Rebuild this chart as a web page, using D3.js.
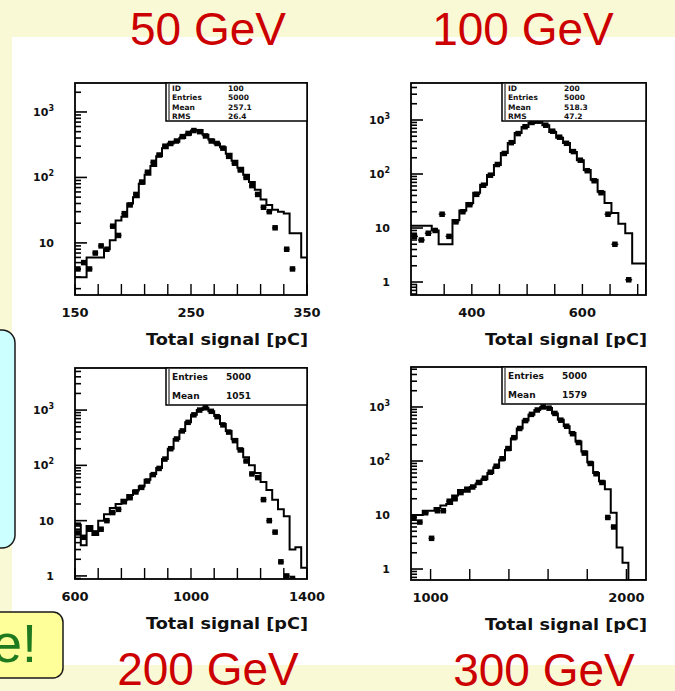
<!DOCTYPE html>
<html>
<head>
<meta charset="utf-8">
<script src="https://cdnjs.cloudflare.com/ajax/libs/d3/7.8.5/d3.min.js"></script>
<style>
  body { margin: 0; background: #f9f9d6; }
  svg { display: block; }
</style>
</head>
<body>
<svg id="chart" width="675" height="691"></svg>
<script>
// values (total signal, log scale)
const titles = ["50 GeV", "100 GeV", "200 GeV", "300 GeV"];
const xDomains = [[150, 350], [290, 715], [600, 1400], [900, 2100]];
const yDomains = [[1.6, 2770], [0.575, 4840], [0.88, 5770], [0.626, 5500]];
const binStarts = [150, 290, 600, 900];
const binWidths = [5, 12.5, 20, 30];
const xTickSteps = [20, 50, 80, 200];
const xTickLabels = [[150, 250, 350], [400, 600], [600, 1000, 1400], [1000, 2000]];
const yTickLabels = [1, 10, 100, 1000];
const xTitle = "Total signal [pC]";

const hist50 = [3, 3, 6, 6, 6, 8, 11, 22, 25, 40, 50, 80, 110, 150, 210, 280, 330, 350, 400, 450,
                520, 530, 450, 380, 330, 290, 230, 180, 140, 110, 85, 65, 46, 38, 32, 30, 28, 14, 14, 6];
const data50 = [4, 5, 4, 7, 9, 8, 18, 13, 28, 38, 55, 85, 120, 170, 220, 300, 330, 360, 420, 470,
                520, 500, 430, 360, 330, 280, 210, 165, 130, 100, 75, 55, 35, 30, 17, null, 8, 4, null, null];

const hist100 = [11, 11, 11, 9, 5, 5, 14, 21, 29, 45, 63, 96, 147, 245, 375, 575, 740, 880, 930, 800,
                 600, 470, 375, 255, 180, 118, 78, 47, 29, 19, 12, 8, 2.2, 2.2];
const data100 = [7, 6, 8, 9, 18, 7, 13, 20, 27, 42, 62, 95, 150, 240, 380, 560, 750, 900, 950, 800,
                 620, 480, 370, 260, 180, 115, 75, 45, 18, 5, null, 1.1, null, null];

const hist200 = [8.4, 3.6, 8, 5.5, 10, 13, 17, 20, 24, 29, 35, 42, 55, 70, 90, 130, 200, 300, 420, 600,
                 820, 1000, 1100, 950, 780, 560, 420, 300, 200, 140, 100, 73, 50, 36, 24, 16, 12, 3, 3.3, 1.4];
const data200 = [6, 5, 7, 6, 7, 10, 14, 16, 22, 26, 33, 40, 52, 68, 88, 130, 200, 300, 420, 600,
                 820, 1000, 1100, 950, 760, 540, 400, 280, 190, 120, 70, 60, 24, 10, 6.2, 1.8, 1, 0.9, null, null];

const hist300 = [10, 10, 12, 12, 13.5, 15, 16, 23, 29, 27, 33, 38, 46, 60, 76, 105, 160, 260, 400, 560,
                 720, 880, 1000, 960, 760, 580, 440, 330, 230, 150, 95, 60, 42, 30, 11, 2.5, 1.3, 0, 0, 0];
const data300 = [9, 7.4, 11, 3.7, 12, 12, 18, 20, 26, 30, 33, 40, 48, 62, 80, 110, 170, 270, 400, 560,
                 730, 880, 1000, 950, 760, 570, 440, 320, 220, 140, 90, 58, 40, 9, 6, null, null, null, null, null];

const histograms = [hist50, hist100, hist200, hist300];
const dataPoints = [data50, data100, data200, data300];

// stats boxes (barely legible in the scan)
const statNamesTop = ["ID", "Entries", "Mean", "RMS"];
const statNamesBottom = ["Entries", "Mean"];
const statValues = [["100", "5000", "257.1", "26.4"], ["200", "5000", "518.3", "47.2"],
                    ["5000", "1051"], ["5000", "1579"]];

// ---- layout ----
const frames = [
  { left: 75, right: 307, top: 83, bottom: 295 },
  { left: 411, right: 646, top: 83, bottom: 295 },
  { left: 75, right: 307, top: 368, bottom: 579 },
  { left: 411, right: 646, top: 367, bottom: 580 }
];
const titlePos = [[208, 45], [523, 45], [208, 685], [544, 686]];

const svg = d3.select("#chart");

// slide background + pasted white picture
svg.append("rect").attr("width", 675).attr("height", 691).attr("fill", "#f9f9d6");
svg.append("rect").attr("x", 12).attr("y", 37).attr("width", 663).attr("height", 628).attr("fill", "#ffffff");

const axisFont = "'DejaVu Sans', sans-serif";

frames.forEach((f, p) => {
  const x = d3.scaleLinear().domain(xDomains[p]).range([f.left, f.right]);
  const y = d3.scaleLog().domain(yDomains[p]).range([f.bottom, f.top]).clamp(true);
  const yv = v => (v > 0 ? y(v) : f.bottom);

  const g = svg.append("g");
  const clipId = "clip" + p;
  svg.append("clipPath").attr("id", clipId)
    .append("rect").attr("x", f.left).attr("y", f.top)
    .attr("width", f.right - f.left).attr("height", f.bottom - f.top);

  const plot = g.append("g").attr("clip-path", `url(#${clipId})`);

  // histogram as a step line
  const h = histograms[p];
  const w = binWidths[p];
  const pts = h.map((v, i) => [binStarts[p] + i * w, v]);
  pts.push([binStarts[p] + h.length * w, h[h.length - 1]]);
  const step = d3.line().x(d => x(d[0])).y(d => yv(d[1])).curve(d3.curveStepAfter);
  plot.append("path")
    .attr("d", step(pts) + `L${x(binStarts[p] + h.length * w)},${f.bottom}`)
    .attr("fill", "none").attr("stroke", "#000").attr("stroke-width", 2);

  // data points with horizontal bin bars
  const pd = dataPoints[p].map((v, i) => ({ v, i })).filter(d => d.v != null);
  plot.selectAll("line.err").data(pd).join("line")
    .attr("x1", d => x(binStarts[p] + d.i * w))
    .attr("x2", d => x(binStarts[p] + (d.i + 1) * w))
    .attr("y1", d => yv(d.v)).attr("y2", d => yv(d.v))
    .attr("stroke", "#000").attr("stroke-width", 1.3);
  plot.selectAll("rect.pt").data(pd).join("rect")
    .attr("x", d => x(binStarts[p] + (d.i + 0.5) * w) - 2.75)
    .attr("y", d => yv(d.v) - 2.75)
    .attr("width", 5.5).attr("height", 5.5).attr("fill", "#000");

  // x ticks (inside, pointing up)
  const origin = xTickLabels[p][0];
  const sx = xTickSteps[p];
  const kMin = Math.ceil((xDomains[p][0] - origin) / sx);
  const kMax = Math.floor((xDomains[p][1] - origin) / sx);
  const xt = d3.range(kMin, kMax + 1).map(k => origin + k * sx);
  g.selectAll("line.xt").data(xt).join("line")
    .attr("x1", d => x(d)).attr("x2", d => x(d))
    .attr("y1", f.bottom).attr("y2", f.bottom - 11)
    .attr("stroke", "#000").attr("stroke-width", 1.4);

  // y ticks (log, inside)
  const yt = y.ticks().filter(t => t >= yDomains[p][0] && t <= yDomains[p][1]);
  g.selectAll("line.yt").data(yt).join("line")
    .attr("x1", f.left)
    .attr("x2", d => f.left + (Math.abs(Math.log10(d) - Math.round(Math.log10(d))) < 1e-9 ? 12 : 6))
    .attr("y1", d => y(d)).attr("y2", d => y(d))
    .attr("stroke", "#000").attr("stroke-width", 1.6);

  // frame
  g.append("rect")
    .attr("x", f.left).attr("y", f.top)
    .attr("width", f.right - f.left).attr("height", f.bottom - f.top)
    .attr("fill", "none").attr("stroke", "#000").attr("stroke-width", 1.8);

  // stats box
  const top = p < 2;
  const boxL = f.left + 91;
  const boxH = top ? 38 : 37;
  g.append("rect")
    .attr("x", boxL).attr("y", f.top)
    .attr("width", f.right - boxL).attr("height", boxH)
    .attr("fill", "#fff").attr("stroke", "#000").attr("stroke-width", 1.5);
  g.append("line")
    .attr("x1", boxL + 3).attr("x2", boxL + 3)
    .attr("y1", f.top + 1).attr("y2", f.top + boxH - 1)
    .attr("stroke", "#000").attr("stroke-width", 1);
  const names = top ? statNamesTop : statNamesBottom;
  const rowH = boxH / names.length;
  names.forEach((n, r) => {
    const by = f.top + rowH * (r + 0.5) + 3;
    g.append("text").attr("x", boxL + 6).attr("y", by)
      .attr("font-family", axisFont).attr("font-weight", "bold")
      .attr("font-size", top ? 7.5 : 9).attr("fill", "#111").text(n);
    g.append("text").attr("x", boxL + (top ? 62 : 60)).attr("y", by)
      .attr("font-family", axisFont).attr("font-weight", "bold")
      .attr("font-size", top ? 7.5 : 9).attr("fill", "#111").text(statValues[p][r]);
  });

  // x tick labels
  g.selectAll("text.xl").data(xTickLabels[p]).join("text")
    .attr("x", d => x(d)).attr("y", f.bottom + 22)
    .attr("text-anchor", "middle")
    .attr("font-family", axisFont).attr("font-weight", "bold").attr("font-size", 13)
    .attr("fill", "#111").text(d => d);

  // y tick labels
  yTickLabels.filter(t => t >= yDomains[p][0] && t <= yDomains[p][1]).forEach(t => {
    const e = Math.round(Math.log10(t));
    const tx = g.append("text")
      .attr("x", f.left - 21).attr("y", y(t) + 4)
      .attr("text-anchor", "end")
      .attr("font-family", axisFont).attr("font-weight", "bold").attr("font-size", 11)
      .attr("fill", "#111");
    if (e < 2) {
      tx.text(String(t));
    } else {
      tx.append("tspan").text("10");
      tx.append("tspan").attr("dy", -5).attr("font-size", 8).text(String(e));
    }
  });

  // axis title
  g.append("text")
    .attr("x", f.right + 1).attr("y", f.bottom + 50)
    .attr("text-anchor", "end")
    .attr("font-family", axisFont).attr("font-weight", "bold").attr("font-size", 16)
    .attr("textLength", 162).attr("lengthAdjust", "spacingAndGlyphs")
    .attr("fill", "#111").text(xTitle);

  // energy title
  svg.append("text")
    .attr("x", titlePos[p][0]).attr("y", titlePos[p][1])
    .attr("text-anchor", "middle")
    .attr("font-family", "'Liberation Sans', Arial, sans-serif").attr("font-size", 46)
    .attr("fill", "#cc0000").text(titles[p]);
});

// slide call-out boxes cut by the crop
svg.append("rect")
  .attr("x", -20).attr("y", 330).attr("width", 35).attr("height", 218).attr("rx", 13)
  .attr("fill", "#ccffff").attr("stroke", "#1a1a1a").attr("stroke-width", 1.5);
svg.append("rect")
  .attr("x", -20).attr("y", 612).attr("width", 83).attr("height", 66).attr("rx", 10)
  .attr("fill", "#ffff99").attr("stroke", "#1a1a1a").attr("stroke-width", 1.5);
svg.append("text")
  .attr("x", 37).attr("y", 662).attr("text-anchor", "end")
  .attr("font-family", "'Liberation Sans', Arial, sans-serif").attr("font-size", 54)
  .attr("fill", "#1f7a1f").text("e!");
</script>
</body>
</html>
